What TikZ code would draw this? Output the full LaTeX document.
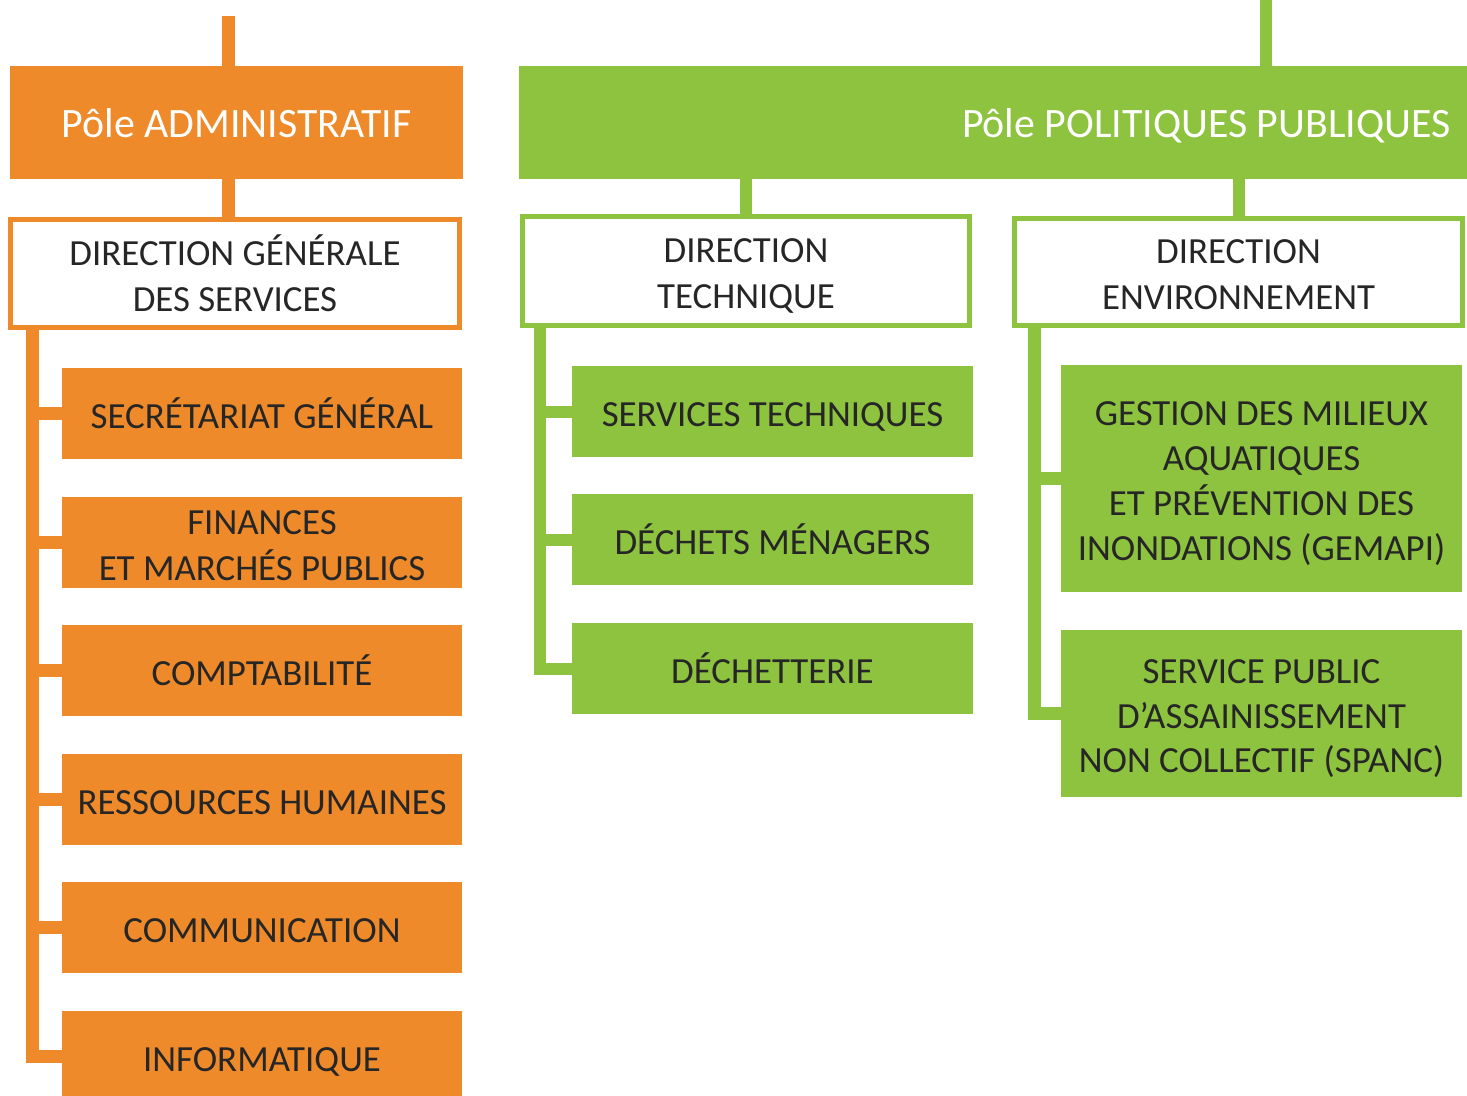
\documentclass[tikz,border=0pt]{standalone}
\usepackage{fontspec}
\setmainfont{Carlito}
\definecolor{orng}{HTML}{EE8A2A}
\definecolor{grn}{HTML}{8DC33F}
\definecolor{txt}{HTML}{262626}
\newcommand\mystrut{\rule[-8bp]{0pt}{45bp}}
\begin{document}
\begin{tikzpicture}[x=1bp,y=-1bp,
  pole/.style={rectangle, inner sep=0pt, text=white, font=\fontsize{42}{50}\selectfont},
  dirbox/.style={rectangle, fill=white, line width=5bp, inner sep=0pt, text=txt, align=center, font=\fontsize{37}{45}\selectfont},
  obox/.style={rectangle, fill=orng, inner sep=0pt, minimum width=400bp, minimum height=91bp, text=txt, align=center, font=\fontsize{37}{45}\selectfont},
  gbox/.style={rectangle, fill=grn, inner sep=0pt, minimum width=401bp, minimum height=91bp, text=txt, align=center, font=\fontsize{37}{45}\selectfont},
  oline/.style={draw=orng, line width=13bp},
  gline/.style={draw=grn, line width=12bp}]
\useasboundingbox (0,0) rectangle (1467,1095);
\clip (0,0) rectangle (1467,1095);

% ---------- orange side ----------
\node[pole, fill=orng, minimum width=453bp, minimum height=113bp] (padm) at (236.5,122.5) {\mystrut Pôle ADMINISTRATIF};
\node[dirbox, draw=orng, minimum width=449bp, minimum height=108bp] (dgs) at (235,273.5) {\mystrut DIRECTION GÉNÉRALE\\DES SERVICES\mystrut};
\node[obox] (sg) at (262,413.5) {\mystrut SECRÉTARIAT GÉNÉRAL};
\node[obox] (fin) at (262,542.5) {\mystrut FINANCES\\ET MARCHÉS PUBLICS\mystrut};
\node[obox] (comp) at (262,670.5) {\mystrut COMPTABILITÉ};
\node[obox] (rh) at (262,799.5) {\mystrut RESSOURCES HUMAINES};
\node[obox] (comm) at (262,927.5) {\mystrut COMMUNICATION};
\node[obox] (info) at (262,1056.5) {\mystrut INFORMATIQUE};

\coordinate (otop) at (228.5,16);
\coordinate (otr) at (32,0);
\draw[oline] (otop) -- (otop |- padm.north);
\draw[oline] (padm.south -| otop) -- (dgs.north -| otop);
\draw[oline] (dgs.south -| otr) |- (info.west);
\foreach \n in {sg,fin,comp,rh,comm} \draw[oline] (\n.west -| otr) -- (\n.west);

% ---------- green side ----------
\node[pole, fill=grn, minimum width=949bp, minimum height=113bp, inner xsep=17bp, text width=915bp, align=flush right] (ppp) at (993,122.5) {\mystrut Pôle POLITIQUES PUBLIQUES};
\node[dirbox, draw=grn, minimum width=447bp, minimum height=109bp] (dt) at (746,271) {\mystrut DIRECTION\\TECHNIQUE\mystrut};
\node[dirbox, draw=grn, minimum width=448bp, minimum height=107bp] (de) at (1238.5,272) {\mystrut DIRECTION\\ENVIRONNEMENT\mystrut};
\node[gbox] (st) at (772.5,411.5) {\mystrut SERVICES TECHNIQUES};
\node[gbox] (dm) at (772.5,539.5) {\mystrut DÉCHETS MÉNAGERS};
\node[gbox] (dech) at (772.5,668.5) {\mystrut DÉCHETTERIE};
\node[gbox, minimum height=227bp] (gemapi) at (1261.5,478.5) {\mystrut GESTION DES MILIEUX\\AQUATIQUES\\ET PRÉVENTION DES\\INONDATIONS (GEMAPI)\mystrut};
\node[gbox, minimum height=167bp] (spanc) at (1261.5,713.5) {\mystrut SERVICE PUBLIC\\D’ASSAINISSEMENT\\NON COLLECTIF (SPANC)\mystrut};

\coordinate (gtop) at (1266,0);
\coordinate (dtr) at (540,0);
\coordinate (detr) at (1034,0);
\draw[gline] (gtop) -- (gtop |- ppp.north);
\draw[gline] (ppp.south -| dt) -- (dt.north);
\draw[gline] (ppp.south -| de) -- (de.north);
\draw[gline] (dt.south -| dtr) |- (dech.west);
\foreach \n in {st,dm} \draw[gline] (\n.west -| dtr) -- (\n.west);
\draw[gline, line width=13bp] (de.south -| detr) |- (spanc.west);
\draw[gline, line width=13bp] (gemapi.west -| detr) -- (gemapi.west);
\end{tikzpicture}
\end{document}
